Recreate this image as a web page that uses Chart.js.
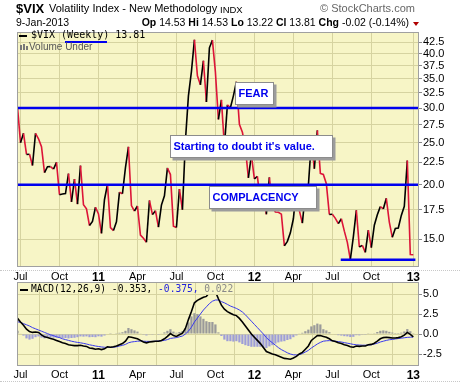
<!DOCTYPE html>
<html><head><meta charset="utf-8">
<script src="https://cdn.jsdelivr.net/npm/chart.js@4.4.1/dist/chart.umd.min.js"></script>
<style>
html,body{margin:0;padding:0;background:#fff;}
body{width:460px;height:383px;position:relative;overflow:hidden;font-family:"Liberation Sans",Arial,sans-serif;}
.t{position:absolute;white-space:nowrap;color:#000;line-height:normal;}
.m{font-family:"DejaVu Sans Mono",monospace;}
canvas{position:absolute;left:0;}
.dots{position:absolute;left:0;width:460px;height:0;border-top:1px dotted #c8c8c8;}
</style></head><body>
<div class="dots" style="top:270px"></div>
<div class="dots" style="top:381px"></div>
<canvas id="main" width="460" height="285" style="top:0"></canvas>
<canvas id="macd" width="460" height="113" style="top:270px"></canvas>

<div class="t" style="left:16px;top:1px;font-size:13px;font-weight:bold;">$VIX</div>
<div class="t" style="left:49px;top:2px;font-size:11px;">Volatility Index - New Methodology</div>
<div class="t" style="left:220px;top:4px;font-size:9.5px;">INDX</div>
<div class="t" style="left:320px;top:2px;font-size:11px;color:#666;">© StockCharts.com</div>
<div class="t" style="left:16px;top:16px;font-size:10.5px;">9-Jan-2013</div>
<div class="t" style="right:51px;top:16px;font-size:10.5px;"><b>Op</b> 14.53 <b>Hi</b> 14.53 <b>Lo</b> 13.22 <b>Cl</b> 13.81 <b>Chg</b> -0.02 (-0.14%)</div>
<div style="position:absolute;left:413px;top:22px;width:0;height:0;border-left:3px solid transparent;border-right:3px solid transparent;border-top:4px solid #b00000;"></div>

<div style="position:absolute;left:19px;top:35px;width:8px;height:2px;background:#000;"></div>
<div class="t m" style="left:31px;top:29px;font-size:10px;">$VIX (Weekly) 13.81</div>
<div style="position:absolute;left:65px;top:41px;width:42px;height:2px;background:#0000ee;"></div>
<div style="position:absolute;left:20px;top:45px;width:2px;height:5px;background:#777;"></div>
<div style="position:absolute;left:23px;top:44px;width:2px;height:6px;background:#777;"></div>
<div style="position:absolute;left:26px;top:46px;width:2px;height:4px;background:#777;"></div>
<div class="t" style="left:29px;top:41px;font-size:10px;color:#555;">Volume Under</div>

<div style="position:absolute;left:20px;top:289px;width:8px;height:2px;background:#000;"></div>
<div class="t m" style="left:31px;top:283px;font-size:9.6px;">MACD(12,26,9) -0.353, <span style="color:#2222dd">-0.375,</span> <span style="color:#888">0.022</span></div>

<script>
// ---- data ----
const vixClose = [30.12,24.98,26.25,23.47,23.50,22.14,26.24,25.49,24.45,21.31,
21.99,22.01,21.71,22.50,18.96,19.03,19.08,21.20,18.26,20.61,
18.04,22.12,17.99,17.61,16.11,16.47,17.75,17.14,15.46,18.47,
20.04,15.93,15.69,16.43,19.22,19.06,21.88,24.44,17.91,17.40,
17.87,15.32,15.07,14.75,18.40,17.07,17.43,15.98,17.95,18.86,
21.85,21.10,16.06,15.95,19.53,17.52,25.25,32.00,36.36,43.05,
35.59,33.92,38.52,30.98,41.25,42.96,36.27,28.24,31.32,24.53,
30.50,30.04,32.00,34.47,27.52,26.38,24.29,20.73,23.40,20.63,
20.91,18.28,18.53,17.10,20.79,17.78,17.31,17.29,17.11,14.47,
14.82,15.50,16.70,19.55,17.44,16.32,19.16,19.89,25.10,21.76,
26.66,21.23,21.11,20.11,17.08,17.10,16.74,16.27,16.70,15.64,
14.74,13.45,15.18,17.47,14.38,14.51,13.98,15.73,14.33,16.14,
17.06,17.81,17.59,18.61,16.41,15.14,15.87,15.90,17.00,17.84,
22.72,13.83,13.81];

const macdLine = [1.96,1.5,1.1,0.6,0.3,0.2,0.25,0.2,-0.1,-0.35,
-0.45,-0.55,-0.65,-0.8,-0.95,-1.1,-1.2,-1.35,-1.4,-1.45,
-1.45,-1.4,-1.5,-1.55,-1.75,-1.8,-1.9,-1.85,-1.95,-1.85,
-1.6,-1.65,-1.6,-1.5,-1.35,-1.2,-0.9,-0.35,-0.4,-0.5,
-0.6,-0.8,-1.0,-1.1,-1.0,-0.95,-0.9,-0.9,-0.8,-0.6,
-0.3,0.05,-0.2,-0.3,-0.1,0.1,0.7,1.8,2.8,3.9,
4.2,4.4,4.6,4.7,5.2,5.6,5.3,4.4,3.6,3.1,
2.8,2.6,2.4,2.3,1.95,1.5,1.0,0.5,0.0,-0.4,
-0.8,-1.2,-1.7,-2.2,-2.35,-2.5,-2.6,-2.75,-2.9,-3.05,
-3.1,-3.15,-3.0,-2.8,-2.5,-2.3,-1.9,-1.5,-0.8,-0.5,
-0.2,-0.2,-0.3,-0.4,-0.6,-0.85,-0.95,-1.1,-1.2,-1.35,
-1.45,-1.6,-1.65,-1.5,-1.55,-1.5,-1.5,-1.35,-1.3,-1.15,
-0.9,-0.6,-0.45,-0.4,-0.45,-0.5,-0.5,-0.45,-0.35,-0.15,
0.2,-0.05,-0.353];

const signalLine = [1.54,1.45,1.3,1.15,1.0,0.8,0.65,0.5,0.35,0.2,
0.05,-0.1,-0.2,-0.35,-0.45,-0.6,-0.7,-0.8,-0.9,-0.98,
-1.05,-1.1,-1.17,-1.25,-1.35,-1.42,-1.5,-1.56,-1.62,-1.66,
-1.66,-1.67,-1.66,-1.6,-1.5,-1.42,-1.3,-1.1,-1.0,-0.95,
-0.9,-0.88,-0.9,-0.92,-0.92,-0.92,-0.9,-0.88,-0.85,-0.8,
-0.7,-0.55,-0.5,-0.45,-0.35,-0.25,0.0,0.35,0.85,1.5,
2.0,2.5,3.0,3.4,3.8,4.1,4.25,4.25,4.05,3.9,
3.7,3.5,3.35,3.2,3.0,2.75,2.4,2.0,1.6,1.2,
0.8,0.4,0.0,-0.45,-0.8,-1.1,-1.4,-1.7,-1.95,-2.15,
-2.35,-2.5,-2.6,-2.62,-2.58,-2.45,-2.25,-2.05,-1.75,-1.5,
-1.25,-1.05,-0.9,-0.85,-0.83,-0.85,-0.9,-0.95,-1.0,-1.08,
-1.15,-1.22,-1.3,-1.35,-1.38,-1.4,-1.4,-1.38,-1.35,-1.25,
-1.15,-1.0,-0.9,-0.8,-0.72,-0.68,-0.62,-0.57,-0.52,-0.47,
-0.42,-0.4,-0.375];

const histogram = [0.42,0.05,-0.2,-0.55,-0.7,-0.6,-0.4,-0.3,-0.45,-0.55,
-0.5,-0.45,-0.45,-0.45,-0.5,-0.5,-0.5,-0.55,-0.5,-0.47,
-0.4,-0.3,-0.33,-0.3,-0.4,-0.38,-0.4,-0.29,-0.33,-0.19,
0.06,0.02,0.06,0.1,0.15,0.22,0.4,0.75,0.6,0.45,
0.3,0.08,-0.1,-0.18,-0.08,-0.03,0.0,-0.02,0.05,0.2,
0.4,0.6,0.3,0.15,0.25,0.35,0.7,1.45,2.2,2.6,
2.5,2.2,1.9,1.6,1.5,1.5,1.2,0.2,-0.25,-0.7,
-0.9,-0.9,-0.95,-0.9,-1.05,-1.25,-1.4,-1.5,-1.6,-1.6,
-1.6,-1.6,-1.7,-1.75,-1.55,-1.4,-1.2,-1.05,-0.95,-0.9,
-0.75,-0.65,-0.4,-0.18,0.08,0.15,0.35,0.55,0.95,1.1,
1.3,1.2,0.6,0.45,0.23,0.0,-0.05,-0.15,-0.2,-0.27,
-0.3,-0.38,-0.35,-0.15,-0.17,-0.1,-0.1,0.03,0.05,0.1,
0.25,0.4,0.45,0.4,0.27,0.18,0.12,0.12,0.17,0.32,
0.62,0.35,0.022];

const priceTicks = [15,17.5,20,22.5,25,27.5,30,32.5,35,37.5,40,42.5];
const macdTicks = [-2.5,0,2.5,5];
const xTickWeeks = [1,14,27,40,53,66,79,92,105,118,132];
const xTickLabels = ['Jul','Oct','11','Apr','Jul','Oct','12','Apr','Jul','Oct','13'];
const refLevels = [30,20];
const supportLevel = 13.45;
const supportWeeks = [107.8,132.7];
const notes = [
  {text:'FEAR', week:72.5, level:34.4, w:38, h:22},
  {text:"Starting to doubt it's value.", week:50.9, level:26.0, w:162, h:22},
  {text:'COMPLACENCY', week:63.8, level:19.86, w:107, h:22}
];

// ---- styling ----
const BG = '#f7f5c6', GRID = '#d6d3a0', FONT = '"Liberation Sans", Arial, sans-serif';
const RED = '#dc1438';

function xAxis(h, pad){
  return {
    type:'linear', min:-0.17, max:133.9, offset:false,
    afterBuildTicks: s => { s.ticks = xTickWeeks.map(v => ({value:v})); },
    afterFit: s => { s.height = h; s.paddingLeft = 0; s.paddingRight = 0; },
    grid:{color:GRID, drawTicks:false, lineWidth:1},
    border:{display:false},
    ticks:{autoSkip:false, maxRotation:0, minRotation:0, padding:pad, color:'#000',
      callback: v => { const k = xTickWeeks.indexOf(v); return k >= 0 ? xTickLabels[k] : ''; },
      font: c => { const v = c.tick ? c.tick.value : null; const k = xTickWeeks.indexOf(v);
        const yr = k >= 0 && /^\d/.test(xTickLabels[k]);
        return {family:FONT, size: yr ? 12 : 11, weight: yr ? 'bold' : 'normal'}; }
    }
  };
}
function yAxis(type, min, max, ticks){
  return {
    type, position:'right', min, max,
    afterBuildTicks: s => { s.ticks = ticks.map(v => ({value:v})); },
    afterFit: s => { s.width = 41; s.paddingTop = 0; s.paddingBottom = 0; },
    grid:{color:GRID, drawTicks:true, tickLength:3, tickColor:'#888'},
    border:{display:false},
    ticks:{autoSkip:false, padding:1, color:'#000', font:{family:FONT, size:11},
      callback: v => Number(v).toFixed(1)}
  };
}
const panelPlugin = {
  id:'panel',
  beforeDraw(chart){
    const a = chart.chartArea, c = chart.ctx;
    c.save(); c.fillStyle = BG; c.fillRect(a.left, a.top, a.right - a.left, a.bottom - a.top); c.restore();
  },
  afterDraw(chart){
    const a = chart.chartArea, c = chart.ctx;
    c.save(); c.strokeStyle = '#a0a0a0'; c.lineWidth = 1;
    c.strokeRect(a.left + 0.5, a.top + 0.5, a.right - a.left - 1, a.bottom - a.top - 1); c.restore();
  }
};
const notesPlugin = {
  id:'notes',
  afterDatasetsDraw(chart){
    const c = chart.ctx, a = chart.chartArea, xs = chart.scales.x, ys = chart.scales.y;
    c.save();
    c.strokeStyle = '#0000ee'; c.lineWidth = 2.5;
    refLevels.forEach(l => { const y = ys.getPixelForValue(l);
      c.beginPath(); c.moveTo(a.left, y); c.lineTo(a.right, y); c.stroke(); });
    const sy = ys.getPixelForValue(supportLevel);
    c.beginPath(); c.moveTo(xs.getPixelForValue(supportWeeks[0]), sy); c.lineTo(xs.getPixelForValue(supportWeeks[1]), sy); c.stroke();
    notes.forEach(n => {
      const x = Math.round(xs.getPixelForValue(n.week)) + 0.5, y = Math.round(ys.getPixelForValue(n.level)) + 0.5;
      c.fillStyle = '#9c9c9c'; c.fillRect(x + 2, y + 2, n.w + 1, n.h + 1);
      c.fillStyle = '#fff'; c.fillRect(x, y, n.w, n.h);
      c.strokeStyle = '#8c8c8c'; c.lineWidth = 1; c.strokeRect(x, y, n.w, n.h);
      c.fillStyle = '#0000ee'; c.font = 'bold 11px ' + FONT; c.textBaseline = 'middle';
      c.fillText(n.text, x + 3, y + n.h / 2 + 0.5);
    });
    c.restore();
  }
};
const clipPlugin = {
  id:'legendclip',
  beforeDatasetsDraw(chart){ const a = chart.chartArea, c = chart.ctx; c.save(); c.beginPath();
    c.rect(a.left, a.top + 13, a.right - a.left, a.bottom - a.top - 13); c.clip(); },
  afterDatasetsDraw(chart){ chart.ctx.restore(); }
};

const base = {responsive:false, animation:false, events:[], plugins:{legend:{display:false}, tooltip:{enabled:false}}};

new Chart(document.getElementById('main'), {
  type:'line',
  data:{datasets:[{
    data: vixClose.map((v,i) => ({x:i, y:v})),
    borderColor:'#000', borderWidth:1.6, pointRadius:0, tension:0,
    segment:{borderColor: ctx => ctx.p1.parsed.y < ctx.p0.parsed.y ? RED : '#000'}
  }]},
  options: Object.assign({}, base, {
    layout:{padding:{left:17, top:32, right:0, bottom:0}},
    scales:{ x: xAxis(18, 3), y: yAxis('logarithmic', 12.94, 44.85, priceTicks) }
  }),
  plugins:[panelPlugin, notesPlugin]
});

new Chart(document.getElementById('macd'), {
  type:'bar',
  data:{datasets:[
    {type:'line', data: macdLine.map((v,i) => ({x:i, y:v})), borderColor:'#000', borderWidth:1.6, pointRadius:0, tension:0},
    {type:'line', data: signalLine.map((v,i) => ({x:i, y:v})), borderColor:'#3a3aee', borderWidth:1, pointRadius:0, tension:0},
    {type:'bar', data: histogram.map((v,i) => ({x:i, y:v})), barPercentage:0.75, categoryPercentage:1,
      backgroundColor: ctx => (ctx.raw && ctx.raw.y >= 0) ? '#9a9a9a' : '#9e9ed8'}
  ]},
  options: Object.assign({}, base, {
    layout:{padding:{left:17, top:12, right:0, bottom:0}},
    scales:{ x: xAxis(17, 2), y: yAxis('linear', -4, 6.5, macdTicks) }
  }),
  plugins:[panelPlugin, clipPlugin]
});
</script>
</body></html>
